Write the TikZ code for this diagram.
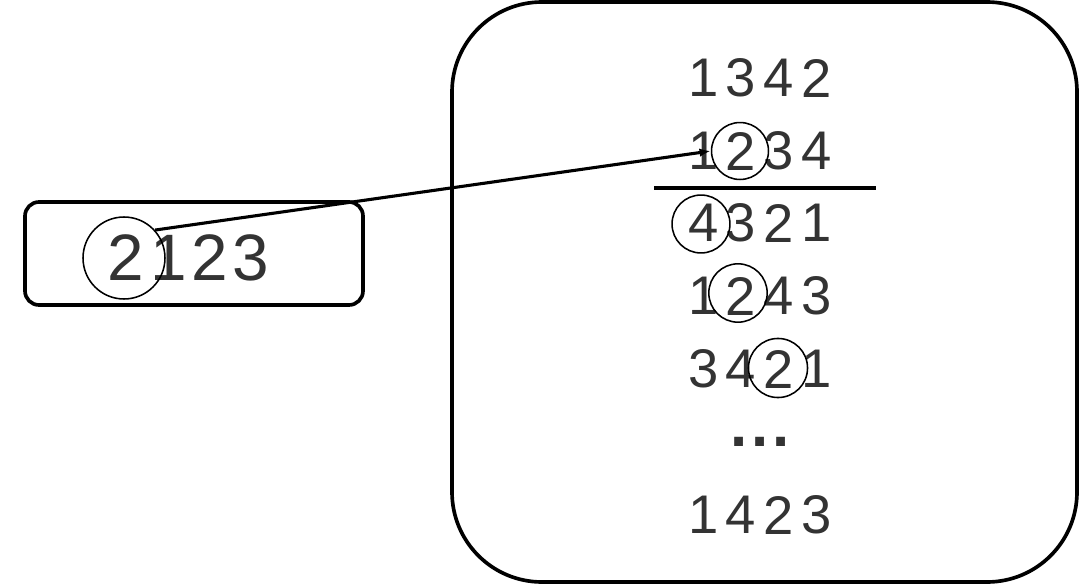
\documentclass[tikz,border=0pt]{standalone}
\usepackage{fontspec}
\setmainfont{Liberation Sans}
\usetikzlibrary{arrows.meta}
\definecolor{digitGray}{RGB}{51,51,51}
\newcommand{\rowFont}{\fontsize{38.7}{40}\selectfont}
\newcommand{\keyFont}{\fontsize{46.7}{48}\selectfont}

\begin{document}
\begin{tikzpicture}[x=0.025cm, y=-0.025cm,
    digit/.style={inner sep=0pt, text=digitGray, font=\rowFont},
    keydigit/.style={digit, font=\keyFont},
    ring/.style={draw, circle, line width=1.1pt, inner sep=0pt, minimum size=#1},
    box/.style={line width=2.6pt}]
  \useasboundingbox (0,0) rectangle (1080,585);

  % the two frames
  \draw[box, rounded corners=10pt] (25,202) rectangle (363,305);
  \draw[box, rounded corners=64pt] (452,2) rectangle (1077,582);

  % key on the left
  \foreach \dig/\x [count=\i] in {2/126,1/169,2/210,3/251}
  {
     \node[keydigit] (key\i) at (\x,258) {\dig};
  }

  % rows on the right
  \foreach \a/\b/\c/\d/\y/\r in {1/3/4/2/78/rowA, 1/2/3/4/151/rowB,
                                 4/3/2/1/223/rowC, 1/2/4/3/296/rowD,
                                 3/4/2/1/369/rowE, 1/4/2/3/515/rowF}
  {
     \foreach \dig/\x [count=\i] in {\a/704,\b/741,\c/779,\d/817}
        \node[digit] (\r-\i) at (\x,\y) {\dig};
  }
  \node[digit, font=\fontsize{44}{46}\selectfont\bfseries] (dots) at (760,442) {.\kern2.5pt.\kern2.5pt.};
  \draw[line width=2.6pt] (654,188) -- (876,188);

  % circled digits
  \node[ring=58.3pt] (keyRing) at (124,258) {};
  \node[ring=40.5pt] (ringB) at (740,151) {};
  \node[ring=41.2pt] (ringC) at (701,224) {};
  \node[ring=41.5pt] (ringD) at (738,293) {};
  \node[ring=42pt] (ringE) at (778,368) {};

  \draw[line width=2.2pt, -{Latex[length=8pt,width=6pt]}] (keyRing.42) -- (ringB.west);
\end{tikzpicture}
\end{document}
